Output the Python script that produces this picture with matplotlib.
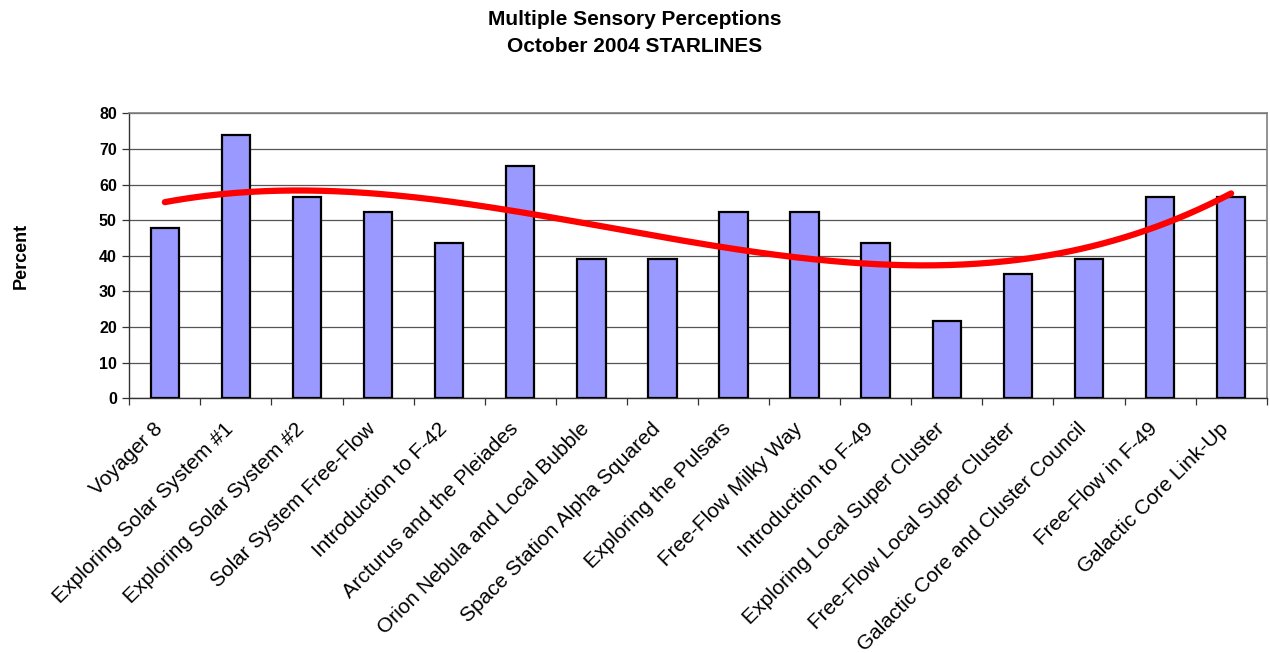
import numpy as np
import matplotlib
matplotlib.use("Agg")
import matplotlib.pyplot as plt
from matplotlib.transforms import ScaledTranslation

plt.rcParams['font.family'] = ['Liberation Sans', 'DejaVu Sans']

programs = [
    "Voyager 8",
    "Exploring Solar System #1",
    "Exploring Solar System #2",
    "Solar System Free-Flow",
    "Introduction to F-42",
    "Arcturus and the Pleiades",
    "Orion Nebula and Local Bubble",
    "Space Station Alpha Squared",
    "Exploring the Pulsars",
    "Free-Flow Milky Way",
    "Introduction to F-49",
    "Exploring Local Super Cluster",
    "Free-Flow Local Super Cluster",
    "Galactic Core and Cluster Council",
    "Free-Flow in F-49",
    "Galactic Core Link-Up",
]
percent = [47.8, 73.9, 56.5, 52.2, 43.5, 65.2, 39.1, 39.1,
           52.2, 52.2, 43.5, 21.7, 34.8, 39.1, 56.5, 56.5]
y_ticks = [0, 10, 20, 30, 40, 50, 60, 70, 80]

fig = plt.figure(figsize=(12.7, 6.53), dpi=100)
ax = fig.add_axes([0.1018, 0.390, 0.8956, 0.4365])

x = np.arange(1, len(programs) + 1)
ax.bar(x, percent, width=0.4, color="#9999FF", edgecolor="black",
       linewidth=1.6, zorder=3)

# Polynomial (order 3) trendline through the bar values
coef = np.polyfit(x, percent, 3)
xs = np.linspace(1, len(programs), 300)
ax.plot(xs, np.polyval(coef, xs), color="#FF0000", linewidth=4.5,
        solid_capstyle="round", zorder=4)

ax.set_xlim(0.5, len(programs) + 0.5)
ax.set_ylim(0, 80)
ax.set_yticks(y_ticks)
ax.set_yticklabels([str(v) for v in y_ticks], fontsize=11.5, fontweight="bold")
ax.yaxis.grid(True, color="#555555", linewidth=0.9, zorder=0)
ax.set_axisbelow(True)

# Category boundaries as minor ticks, labels at centres
ax.set_xticks(np.arange(0.5, len(programs) + 1, 1.0), minor=True)
ax.set_xticks(x)
ax.tick_params(axis="x", which="major", length=0, pad=15.0)
ax.tick_params(axis="x", which="minor", length=5, width=0.9, color="#333333")
ax.tick_params(axis="y", length=5, width=0.9, color="#333333", pad=4)
ax.set_xticklabels(programs, rotation=45, ha="right", va="top",
                   rotation_mode="anchor", fontsize=15)
shift = ScaledTranslation(-12 / 100, 0, fig.dpi_scale_trans)
for lbl in ax.get_xticklabels():
    lbl.set_transform(lbl.get_transform() + shift)

for side in ["top", "right"]:
    ax.spines[side].set_color("#808080")
    ax.spines[side].set_linewidth(1.2)
for side in ["left", "bottom"]:
    ax.spines[side].set_color("#333333")
    ax.spines[side].set_linewidth(1.0)

ax.set_ylabel("Percent", fontsize=13, fontweight="bold", labelpad=50)

fig.text(0.5, 0.985, "Multiple Sensory Perceptions\nOctober 2004 STARLINES",
         ha="center", va="top", fontsize=15, fontweight="bold",
         linespacing=1.58)

fig.savefig("out.png", dpi=100)
